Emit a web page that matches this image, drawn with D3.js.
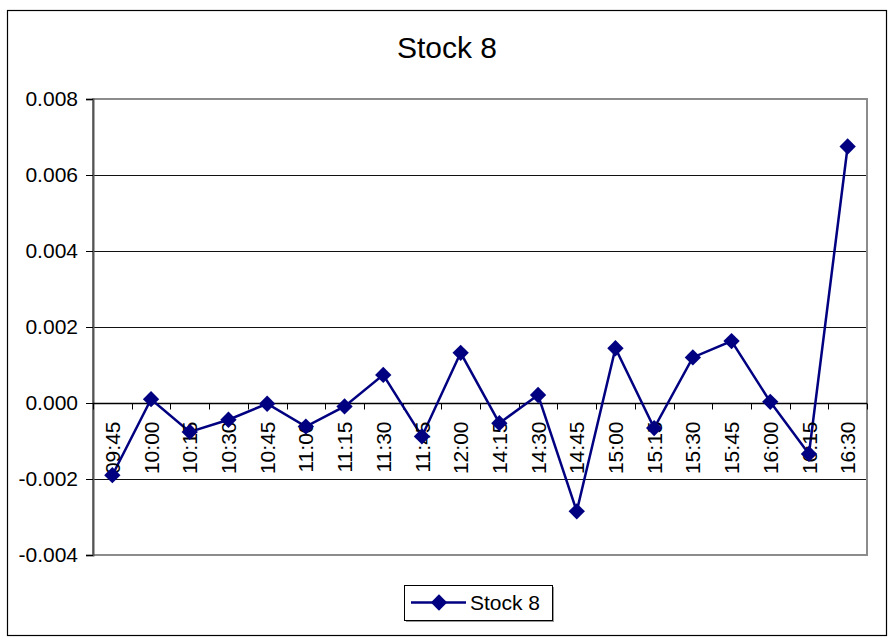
<!DOCTYPE html>
<html>
<head>
<meta charset="utf-8">
<script src="https://cdn.jsdelivr.net/npm/d3@7"></script>
<style>
  body { margin: 0; background: #fff; }
  text { font-family: Arial, "Liberation Sans", sans-serif; }
</style>
</head>
<body>
<div id="chart"></div>
<script>
var times = ["09:45", "10:00", "10:15", "10:30", "10:45", "11:00", "11:15", "11:30", "11:45", "12:00",
             "14:15", "14:30", "14:45", "15:00", "15:15", "15:30", "15:45", "16:00", "16:15", "16:30"];
var stock8 = [-0.0019, 0.0001, -0.00076, -0.00044, -0.00002, -0.00062, -0.00009, 0.00074, -0.00088, 0.00132,
              -0.00053, 0.00021, -0.00285, 0.00144, -0.00066, 0.0012, 0.00163, 0.00003, -0.00134, 0.00675];
var yTicks = [-0.004, -0.002, 0, 0.002, 0.004, 0.006, 0.008];
var seriesName = "Stock 8";

var svgWidth = 894;
var svgHeight = 644;
var plot = { left: 93, right: 867, top: 99, bottom: 555 };
var navy = "#000080";

var svg = d3.select("#chart")
  .append("svg")
  .attr("width", svgWidth)
  .attr("height", svgHeight);

// outer chart border
svg.append("rect")
  .attr("x", 7.5)
  .attr("y", 10.5)
  .attr("width", 879)
  .attr("height", 625)
  .attr("fill", "#fff")
  .attr("stroke", "#000")
  .attr("stroke-width", 1.2);

svg.append("text")
  .attr("x", 447)
  .attr("y", 58)
  .attr("text-anchor", "middle")
  .attr("font-size", "30px")
  .text(seriesName);

var x = d3.scaleBand()
  .domain(times)
  .range([plot.left, plot.right]);

var y = d3.scaleLinear()
  .domain([d3.min(yTicks), d3.max(yTicks)])
  .range([plot.bottom, plot.top]);

// gridlines
svg.append("g")
  .selectAll("line")
  .data(yTicks.filter(d => d !== d3.max(yTicks) && d !== d3.min(yTicks)))
  .enter()
  .append("line")
  .attr("x1", plot.left)
  .attr("x2", plot.right)
  .attr("y1", d => Math.round(y(d)) + 0.5)
  .attr("y2", d => Math.round(y(d)) + 0.5)
  .attr("stroke", "#111")
  .attr("stroke-width", 1);

// plot area border
svg.append("rect")
  .attr("x", plot.left)
  .attr("y", plot.top)
  .attr("width", plot.right - plot.left)
  .attr("height", plot.bottom - plot.top)
  .attr("fill", "none")
  .attr("stroke", "#8c8c8c")
  .attr("stroke-width", 2);

// y axis
var leftAxis = d3.axisLeft(y)
  .tickValues(yTicks)
  .tickFormat(d3.format(".3f"))
  .tickSize(7)
  .tickPadding(8);

var yAxis = svg.append("g")
  .attr("transform", `translate(${plot.left}, 0)`)
  .call(leftAxis);
yAxis.select(".domain").attr("stroke", "#555").attr("stroke-width", 2);
yAxis.selectAll(".tick line").attr("stroke", "#000");
yAxis.selectAll("text")
  .attr("font-size", "21px")
  .attr("font-family", "Arial, 'Liberation Sans', sans-serif")
  .attr("fill", "#000")
  .text(d => d < 0 ? "-" + d3.format(".3f")(-d) : d3.format(".3f")(d));

// x axis at zero
var zeroY = Math.round(y(0)) + 0.5;
svg.append("line")
  .attr("x1", plot.left)
  .attr("x2", plot.right)
  .attr("y1", zeroY)
  .attr("y2", zeroY)
  .attr("stroke", "#000")
  .attr("stroke-width", 1.3);

var boundaries = times.map(d => x(d)).concat([x(times[times.length - 1]) + x.bandwidth()]);
svg.append("g")
  .selectAll("line")
  .data(boundaries)
  .enter()
  .append("line")
  .attr("x1", d => Math.round(d) + 0.5)
  .attr("x2", d => Math.round(d) + 0.5)
  .attr("y1", zeroY)
  .attr("y2", zeroY + 6)
  .attr("stroke", "#000");

// line + markers
var line = d3.line()
  .x((d, i) => x(times[i]) + x.bandwidth() / 2)
  .y(d => y(d));

svg.append("path")
  .datum(stock8)
  .attr("d", line)
  .attr("fill", "none")
  .attr("stroke", navy)
  .attr("stroke-width", 2.5);

var diamond = d3.symbol().type(d3.symbolDiamond2).size(170);

// category labels (drawn over the line like the original)
svg.append("g")
  .selectAll("text")
  .data(times)
  .enter()
  .append("text")
  .attr("transform", d => `translate(${x(d) + x.bandwidth() / 2}, ${zeroY + 18}) rotate(-90)`)
  .attr("dy", "0.36em")
  .attr("text-anchor", "end")
  .attr("font-size", "21px")
  .attr("fill", "#000")
  .text(d => d);

svg.append("g")
  .selectAll("path")
  .data(stock8)
  .enter()
  .append("path")
  .attr("d", diamond)
  .attr("transform", (d, i) => `translate(${x(times[i]) + x.bandwidth() / 2}, ${y(d)})`)
  .attr("fill", navy);

// legend
var legend = svg.append("g").attr("transform", "translate(404, 585)");
legend.append("rect")
  .attr("x", 2)
  .attr("y", 2)
  .attr("width", 148)
  .attr("height", 35)
  .attr("fill", "#999");
legend.append("rect")
  .attr("x", 0.5)
  .attr("y", 0.5)
  .attr("width", 148)
  .attr("height", 35)
  .attr("fill", "#fff")
  .attr("stroke", "#000");
legend.append("line")
  .attr("x1", 7)
  .attr("x2", 62)
  .attr("y1", 17.5)
  .attr("y2", 17.5)
  .attr("stroke", navy)
  .attr("stroke-width", 2.5);
legend.append("path")
  .attr("d", diamond)
  .attr("transform", "translate(35, 17.5)")
  .attr("fill", navy);
legend.append("text")
  .attr("x", 66)
  .attr("y", 17.5)
  .attr("dy", "0.36em")
  .attr("font-size", "21px")
  .text(seriesName);
</script>
</body>
</html>
